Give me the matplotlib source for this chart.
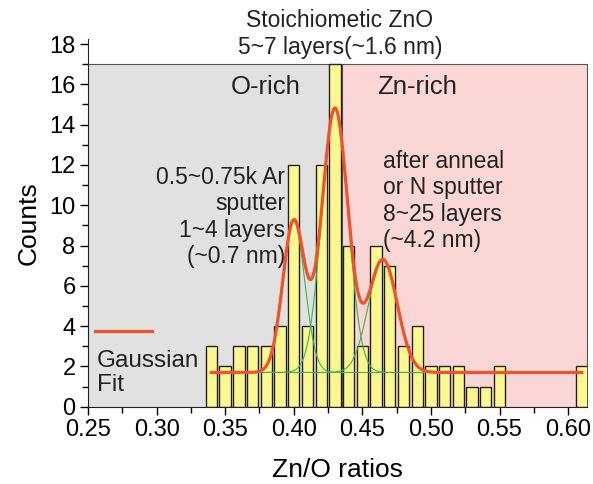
import numpy as np
import matplotlib
matplotlib.use("Agg")
import matplotlib.pyplot as plt
from matplotlib.ticker import MultipleLocator

plt.rcParams['font.family'] = ['Liberation Sans', 'DejaVu Sans']

# histogram data
ratio_centers = [0.34, 0.35, 0.36, 0.37, 0.38, 0.39, 0.40, 0.41, 0.42, 0.43, 0.44,
                 0.45, 0.46, 0.47, 0.48, 0.49, 0.50, 0.51, 0.52, 0.53, 0.54, 0.55, 0.61]
counts = [3, 2, 3, 3, 3, 4, 12, 4, 12, 17, 8, 3, 8, 7, 3, 4, 2, 2, 2, 1, 1, 2, 2]

# gaussian fit parameters (baseline, amplitudes, centers, sigmas)
y0 = 1.7
amps = [7.5, 13.1, 5.6]
mus = [0.400, 0.430, 0.465]
sigmas = [0.0080, 0.0095, 0.0105]

gray_span = (0.25, 0.435)
pink_span = (0.435, 0.614)

def gauss(x, a, m, s):
    return a * np.exp(-(x - m) ** 2 / (2 * s ** 2))

fig = plt.figure(figsize=(5.93, 4.84), dpi=100)
ax = fig.add_axes([0.1484, 0.1597, 0.842, 0.7597])

# shaded regions
ax.fill_between(gray_span, 0, 17, color='#e1e1e1', edgecolor='#555555', lw=0.8, zorder=0)
ax.fill_between(pink_span, 0, 17, color='#fad7d6', edgecolor='#555555', lw=0.8, zorder=0)

ax.bar(ratio_centers, counts, width=0.0083, color='#fdf791', edgecolor='#222222',
       linewidth=1.0, zorder=2)

xg = np.linspace(0.37, 0.55, 400)
for a, m, s in zip(amps, mus, sigmas):
    ax.plot(xg, y0 + gauss(xg, a, m, s), color='#3cb44b', lw=0.8, zorder=3)

xf = np.linspace(0.34, 0.61, 800)
yf = y0 + sum(gauss(xf, a, m, s) for a, m, s in zip(amps, mus, sigmas))
ax.plot(xf, yf, color='#f0522a', lw=2.3, zorder=4)

ax.set_xlim(0.25, 0.614)
ax.set_ylim(0, 18.25)
ax.xaxis.set_major_locator(MultipleLocator(0.05))
ax.xaxis.set_minor_locator(MultipleLocator(0.025))
ax.yaxis.set_major_locator(MultipleLocator(2))
ax.yaxis.set_minor_locator(MultipleLocator(1))
ax.xaxis.set_major_formatter(plt.FormatStrFormatter('%.2f'))
ax.tick_params(which='major', length=6, width=1, labelsize=17, pad=3)
ax.tick_params(which='minor', length=4, width=1)
for sp in ['top', 'right']:
    ax.spines[sp].set_visible(False)
ax.spines['left'].set_color('#222222')
ax.spines['bottom'].set_color('#222222')

ax.set_xlabel('Zn/O ratios', fontsize=19, labelpad=12)
ax.set_ylabel('Counts', fontsize=19, labelpad=6)

# annotations (figure coords from pixels)
W, H = 593.0, 484.0
def ft(px, py, s, **kw):
    fig.text(px / W, 1 - py / H, s, **kw)

ft(340, 34, 'Stoichiometic ZnO\n5~7 layers(~1.6 nm)', fontsize=16.5, ha='center', va='center',
   linespacing=1.2, color='#222222')
ft(266, 87, 'O-rich', fontsize=18.5, ha='center', va='center', color='#222222')
ft(417, 87, 'Zn-rich', fontsize=18.5, ha='center', va='center', color='#222222')
ft(285, 217, '0.5~0.75k Ar\nsputter\n1~4 layers\n(~0.7 nm)', fontsize=16.5, ha='right',
   va='center', multialignment='right', linespacing=1.18, color='#222222')
ft(383, 201, 'after anneal\nor N sputter\n8~25 layers\n(~4.2 nm)', fontsize=16.5, ha='left',
   va='center', linespacing=1.18, color='#222222')
ft(97, 373, 'Gaussian\nFit', fontsize=17.5, ha='left', va='center', linespacing=1.1,
   color='#222222')
fig.add_artist(plt.Line2D([95 / W, 152 / W], [1 - 331 / H, 1 - 331 / H], color='#f0522a', lw=2.3))

fig.savefig('out.png', dpi=100)
